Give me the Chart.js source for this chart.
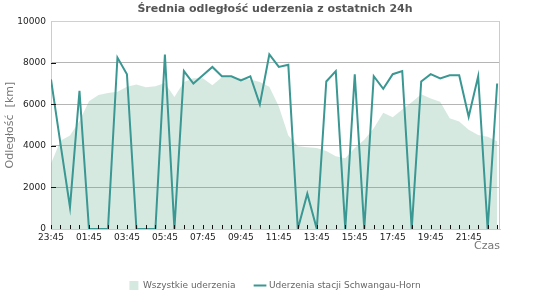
<!DOCTYPE html>
<html lang="pl">
<head>
    <meta charset="UTF-8">
    <title>Średnia odległość uderzenia</title>
    <script src="https://cdn.jsdelivr.net/npm/chart.js"></script>
    <style>
        html, body { margin: 0; padding: 0; background: #fff; }
        canvas { display: block; }
    </style>
</head>
<body>
    <canvas id="distanceChart" width="550" height="300"></canvas>

    <script>
        // one value every 30 minutes, starting at 23:45
        const timeLabels = ['23:45', '01:45', '03:45', '05:45', '07:45', '09:45',
                            '11:45', '13:45', '15:45', '17:45', '19:45', '21:45'];
        const yTicks = [0, 2000, 4000, 6000, 8000, 10000];

        // Wszystkie uderzenia (km)
        const allStrikes = [
            3150, 4250, 4500, 5200, 6150, 6450, 6550, 6600, 6850, 6950,
            6820, 6870, 7030, 6350, 7080, 7250, 7250, 6920, 7300, 7300,
            7240, 7200, 7080, 6850, 5900, 4500, 3980, 3930, 3900, 3750,
            3500, 3400, 3900, 4300, 4850, 5600, 5380, 5750, 6100, 6480,
            6280, 6120, 5330, 5170, 4780, 4520, 4440, 4220
        ];

        // Uderzenia stacji Schwangau-Horn (km)
        const stationStrikes = [
            7200, 4100, 1050, 6650, 0, 0, 0, 8250, 7450, 0,
            0, 0, 8400, 0, 7600, 7000, 7400, 7800, 7350, 7350,
            7150, 7350, 6000, 8400, 7800, 7900, 0, 1700, 0, 7100,
            7600, 0, 7450, 0, 7350, 6750, 7450, 7600, 0, 7100,
            7450, 7250, 7400, 7400, 5400, 7350, 0, 7000
        ];

        const font = 'DejaVu Sans';

        // tick marks pointing into the plot, plus the right frame line
        const innerTicks = {
            id: 'innerTicks',
            afterDatasetsDraw(chart) {
                const { ctx, chartArea: a, scales: { x, y } } = chart;
                ctx.save();
                ctx.strokeStyle = '#cccccc';
                ctx.lineWidth = 1;
                ctx.beginPath();
                ctx.moveTo(a.right - 0.5, a.top);
                ctx.lineTo(a.right - 0.5, a.bottom);
                ctx.stroke();

                ctx.strokeStyle = '#111';
                ctx.beginPath();
                y.ticks.forEach((t, i) => {
                    if (t.value === 0 || t.value === 10000) return;
                    const py = Math.round(y.getPixelForTick(i)) + 0.5;
                    ctx.moveTo(a.left, py);
                    ctx.lineTo(a.left + 5, py);
                });
                x.ticks.forEach((t, i) => {
                    const px = Math.round(x.getPixelForTick(i)) + 0.5;
                    ctx.moveTo(px, a.bottom);
                    ctx.lineTo(px, a.bottom - 4);
                });
                ctx.stroke();
                ctx.restore();
            }
        };

        const ctx = document.getElementById('distanceChart').getContext('2d');
        const distanceChart = new Chart(ctx, {
            type: 'line',
            data: {
                datasets: [{
                    label: 'Wszystkie uderzenia',
                    data: allStrikes.map((v, i) => ({ x: i, y: v })),
                    fill: 'origin',
                    backgroundColor: 'rgba(87, 167, 135, 0.25)',
                    borderColor: 'rgba(87, 167, 135, 0.25)',
                    borderWidth: 0,
                    pointRadius: 0,
                    pointStyle: 'rect',
                    order: 2
                }, {
                    label: 'Uderzenia stacji Schwangau-Horn',
                    data: stationStrikes.map((v, i) => ({ x: i, y: v })),
                    fill: false,
                    borderColor: '#3a9792',
                    backgroundColor: '#3a9792',
                    borderWidth: 2,
                    pointRadius: 0,
                    pointStyle: 'line',
                    order: 1
                }]
            },
            options: {
                responsive: false,
                animation: false,
                layout: { padding: 0 },
                plugins: {
                    title: {
                        display: true,
                        text: 'Średnia odległość uderzenia z ostatnich 24h',
                        color: '#555',
                        font: { family: font, size: 11, weight: 'bold' },
                        padding: { top: 3, bottom: 5 }
                    },
                    legend: {
                        position: 'bottom',
                        labels: {
                            usePointStyle: true,
                            color: '#666',
                            font: { family: font, size: 9 },
                            padding: 20,
                            sort: (a, b) => a.datasetIndex - b.datasetIndex
                        }
                    },
                    tooltip: { enabled: false }
                },
                scales: {
                    x: {
                        type: 'linear',
                        min: 0,
                        max: 47.3,
                        grid: { display: false, drawTicks: false },
                        border: { display: true, color: '#cccccc' },
                        ticks: {
                            stepSize: 1,
                            autoSkip: false,
                            includeBounds: false,
                            maxRotation: 0,
                            padding: 3,
                            color: '#222',
                            font: { family: font, size: 9 },
                            callback: v => (Number.isInteger(v) && v % 4 === 0) ? timeLabels[v / 4] : ''
                        },
                        title: {
                            display: true,
                            text: 'Czas',
                            align: 'end',
                            color: '#777',
                            font: { family: font, size: 11 },
                            padding: { top: 0, bottom: 8 }
                        },
                        afterFit: s => { s.height = 32; }
                    },
                    y: {
                        min: 0,
                        max: 10000,
                        afterBuildTicks: s => { s.ticks = yTicks.map(v => ({ value: v })); },
                        grid: {
                            drawTicks: false,
                            color: c => c.tick.value === 10000 ? '#d0d0d0' : '#b5b5b5'
                        },
                        border: { display: true, color: '#cccccc' },
                        ticks: {
                            padding: 5,
                            color: '#222',
                            font: { family: font, size: 9 },
                            callback: v => String(v)
                        },
                        title: {
                            display: true,
                            text: 'Odległość  [km]',
                            color: '#777',
                            font: { family: font, size: 11 },
                            padding: { top: 4, bottom: 0 }
                        },
                        afterFit: s => { s.width = 51; }
                    },
                    // empty right-hand axis, only keeps the plot 50px from the right edge
                    yRight: {
                        position: 'right',
                        grid: { display: false, drawTicks: false },
                        border: { display: false },
                        ticks: { display: false },
                        afterFit: s => { s.width = 50; }
                    }
                }
            },
            plugins: [innerTicks]
        });
    </script>
</body>
</html>
